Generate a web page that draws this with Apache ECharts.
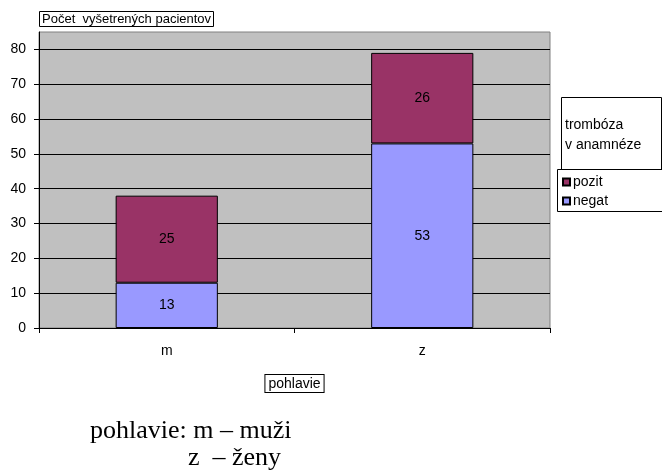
<!DOCTYPE html>
<html>
<head>
<meta charset="utf-8">
<script src="https://cdn.jsdelivr.net/npm/echarts@6/dist/echarts.min.js"></script>
<style>
  html, body { margin: 0; padding: 0; background: #fff; }
  #chart { width: 662px; height: 471px; }
</style>
</head>
<body>
<div id="chart"></div>
<script>
// Patients examined, by sex, split by history of thrombosis
const categories = ['m', 'z'];
const negat = [13, 53];
const pozit = [25, 26];
const yTicks = [0, 10, 20, 30, 40, 50, 60, 70, 80];
const seriesNames = ['pozit', 'negat'];

const font = 'Arial, "Liberation Sans", sans-serif';
const serif = '"Times New Roman", "Liberation Serif", serif';

const chart = echarts.init(document.getElementById('chart'));

const labelStyle = {
  show: true,
  position: 'inside',
  color: '#000',
  fontFamily: font,
  fontSize: 14
};

chart.setOption({
  animation: false,
  textStyle: { fontFamily: font },
  grid: {
    left: 39, right: 112, top: 32, bottom: 143,
    show: true,
    backgroundColor: '#C0C0C0',
    borderColor: '#808080',
    borderWidth: 1
  },
  title: {
    text: 'Počet  vyšetrených pacientov',
    left: 39, top: 11,
    padding: [2, 3, 1, 3],
    borderColor: '#000',
    borderWidth: 1,
    backgroundColor: '#fff',
    textStyle: { fontFamily: font, fontSize: 13, fontWeight: 'normal', color: '#000' }
  },
  legend: {
    data: seriesNames,
    orient: 'vertical',
    left: 562, top: 175,
    itemWidth: 7, itemHeight: 7,
    itemGap: 5,
    padding: 0,
    icon: 'rect',
    textStyle: { fontFamily: font, fontSize: 14, color: '#000', padding: [0, 0, 0, -2] }
  },
  xAxis: {
    type: 'category',
    data: categories,
    axisLine: { lineStyle: { color: '#000', width: 1 } },
    axisTick: { show: true, length: 5, lineStyle: { color: '#000' } },
    axisLabel: { color: '#000', fontFamily: font, fontSize: 14, margin: 16 },
    name: 'pohlavie',
    nameLocation: 'middle',
    nameGap: 47,
    nameTextStyle: {
      color: '#000', fontFamily: font, fontSize: 14,
      borderColor: '#000', borderWidth: 1, padding: [2, 3, 1, 3],
      backgroundColor: '#fff'
    }
  },
  yAxis: {
    type: 'value',
    min: 0, max: 85, interval: 10,
    axisLine: { show: true, lineStyle: { color: '#000', width: 1 } },
    axisTick: { show: true, length: 5, lineStyle: { color: '#000' }, customValues: yTicks },
    axisLabel: { color: '#000', fontFamily: font, fontSize: 14, margin: 13, customValues: yTicks },
    splitLine: { show: true, lineStyle: { color: '#000', width: 1 } }
  },
  series: [
    {
      name: 'negat',
      type: 'bar',
      stack: 'total',
      barWidth: '40%',
      data: negat,
      itemStyle: { color: '#9999FF', borderColor: '#000', borderWidth: 1 },
      label: labelStyle
    },
    {
      name: 'pozit',
      type: 'bar',
      stack: 'total',
      barWidth: '40%',
      data: pozit,
      itemStyle: { color: '#993366', borderColor: '#000', borderWidth: 1 },
      label: labelStyle
    }
  ],
  graphic: [
    // legend frame: heading box and item box
    {
      type: 'rect', z: -1,
      shape: { x: 561.5, y: 97.5, width: 100, height: 72 },
      style: { fill: '#fff', stroke: '#000', lineWidth: 1 }
    },
    {
      type: 'text', left: 565, top: 118,
      style: { text: 'trombóza', font: '14px ' + font, fill: '#000' }
    },
    {
      type: 'text', left: 565, top: 138,
      style: { text: 'v anamnéze', font: '14px ' + font, fill: '#000' }
    },
    {
      type: 'rect', z: -1,
      shape: { x: 557.5, y: 169.5, width: 106, height: 42 },
      style: { fill: '#fff', stroke: '#000', lineWidth: 1 }
    },
    // note under the chart
    {
      type: 'text', left: 90, top: 418,
      style: { text: 'pohlavie: m – muži', font: '26px ' + serif, fill: '#000' }
    },
    {
      type: 'text', left: 188, top: 445,
      style: { text: 'z  – ženy', font: '26px ' + serif, fill: '#000' }
    }
  ]
});
</script>
</body>
</html>
